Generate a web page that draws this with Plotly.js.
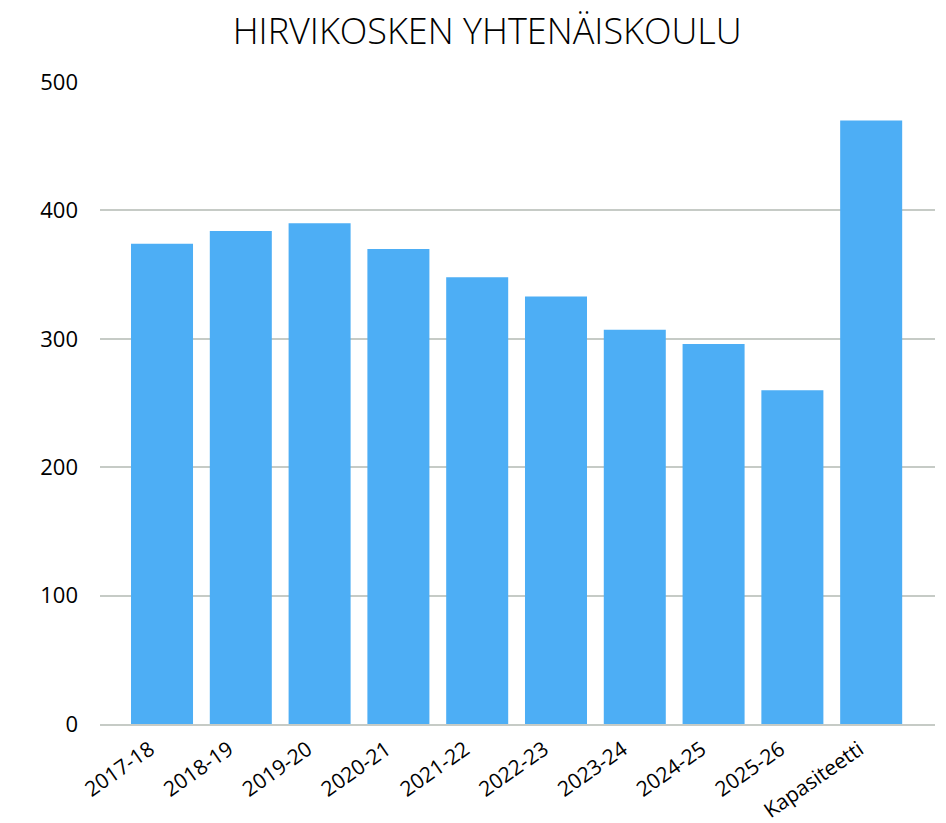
<!DOCTYPE html>
<html>
<head>
<meta charset="utf-8">
<script src="https://cdn.plot.ly/plotly-3.0.1.min.js"></script>
<style>html,body{margin:0;padding:0;background:#fff;}#chart{width:946px;height:823px;}</style>
</head>
<body>
<div id="chart"></div>
<script>
const categories = ["2017-18","2018-19","2019-20","2020-21","2021-22","2022-23","2023-24","2024-25","2025-26","Kapasiteetti"];
const values = [374, 384, 390, 370, 348, 333, 307, 296, 260, 470];
const yTicks = [0, 100, 200, 300, 400, 500];
const chartTitle = "HIRVIKOSKEN YHTENÄISKOULU";

const trace = {
  type: "bar",
  x: categories.map((c, i) => i),
  y: values,
  marker: {color: "#4daef5"},
  hoverinfo: "x+y"
};

const layout = {
  width: 946, height: 823,
  margin: {l: 100, r: 11, t: 82, b: 99},
  paper_bgcolor: "#ffffff", plot_bgcolor: "#ffffff",
  bargap: 0.213,
  showlegend: false,
  title: {
    text: chartTitle,
    x: 0.515, xanchor: "center",
    y: 0.962, yanchor: "middle",
    font: {family: "Open Sans, Noto Sans, sans-serif", size: 36, weight: 300, color: "#000000"}
  },
  xaxis: {
    type: "linear",
    range: [-0.787, 9.81],
    tickmode: "array",
    tickvals: categories.map((c, i) => i),
    ticktext: categories,
    tickangle: -35,
    ticks: "",
    showgrid: false,
    zeroline: false,
    showline: true, linecolor: "#c6cbc6", linewidth: 2,
    tickfont: {family: "Open Sans, Noto Sans, sans-serif", size: 21, color: "#000000"},
    ticklabelstandoff: 3,
    ticklabelshift: -12,
    fixedrange: true
  },
  yaxis: {
    range: [0, 500],
    tickmode: "array",
    tickvals: yTicks,
    ticktext: yTicks.map(String),
    showgrid: true, gridcolor: "#c6cbc6", gridwidth: 2,
    zeroline: false,
    showline: false,
    ticks: "",
    tickfont: {family: "Open Sans, Noto Sans, sans-serif", size: 22, color: "#000000"},
    ticklabelstandoff: 21,
    fixedrange: true
  }
};

Plotly.newPlot("chart", [trace], layout, {displayModeBar: false, staticPlot: true});
</script>
</body>
</html>
